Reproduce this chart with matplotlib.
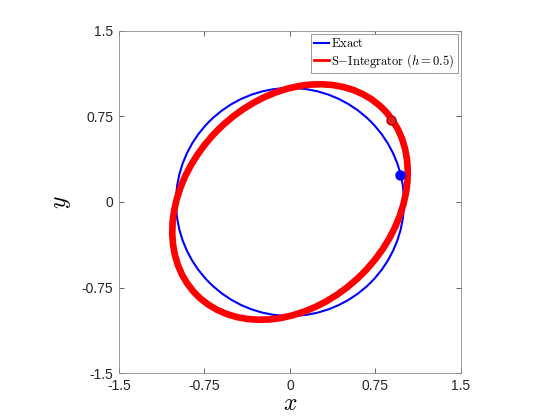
import matplotlib
matplotlib.use("Agg")
import matplotlib.pyplot as plt
from matplotlib.patches import Circle, Ellipse
from matplotlib.lines import Line2D

plt.rcParams['mathtext.fontset'] = 'cm'
plt.rcParams['font.family'] = ['Liberation Sans', 'DejaVu Sans']

# values
exact_radius = 1.0
num_semi_major = 1.155   # along the 45 degree direction
num_semi_minor = 0.894
num_angle = 45.0
exact_end = (0.965, 0.237)
num_end = (0.886, 0.719)
ticks = [-1.5, -0.75, 0, 0.75, 1.5]
tick_labels = ['-1.5', '-0.75', '0', '0.75', '1.5']

fig = plt.figure(figsize=(5.6, 4.2), dpi=100)
ax = fig.add_axes([0.2125, 0.1119, 0.6107, 0.8143])

ax.add_patch(Circle((0, 0), exact_radius, fill=False, edgecolor='blue', linewidth=1.5, zorder=2))
ax.add_patch(Ellipse((0, 0), 2 * num_semi_major, 2 * num_semi_minor, angle=num_angle,
                     fill=False, edgecolor='red', linewidth=4.8, zorder=3))
ax.plot(*num_end, 'o', color='#e02020', markeredgecolor='#c00000', markersize=6.5, zorder=4)
ax.plot(*exact_end, 'o', color='blue', markersize=6.5, zorder=5)

ax.set_xlim(-1.5, 1.5)
ax.set_ylim(-1.5, 1.5)
ax.set_xticks(ticks)
ax.set_xticklabels(tick_labels)
ax.set_yticks(ticks)
ax.set_yticklabels(tick_labels)
ax.tick_params(direction='in', top=True, right=True, length=3.5, width=0.5,
               colors='#262626', labelsize=10, pad=4)
for s in ax.spines.values():
    s.set_color('#8c8c8c')
    s.set_linewidth(0.6)

ax.set_xlabel(r'$x$', fontsize=17, labelpad=0)
ax.set_ylabel(r'$y$', fontsize=17, labelpad=6)

handles = [Line2D([], [], color='blue', linewidth=1.5),
           Line2D([], [], color='red', linewidth=2)]
labels = [r'$\mathrm{Exact}$', r'$\mathrm{S{-}Integrator}\ (h = 0.5)$']
leg = ax.legend(handles, labels, loc='upper right', fontsize=9, handlelength=1.2,
                handletextpad=0.2, borderpad=0.25, labelspacing=0.15,
                borderaxespad=0.25, fancybox=False, framealpha=1)
leg.get_frame().set_edgecolor('#8c8c8c')
leg.get_frame().set_linewidth(0.6)

fig.savefig('out.png', dpi=100)
